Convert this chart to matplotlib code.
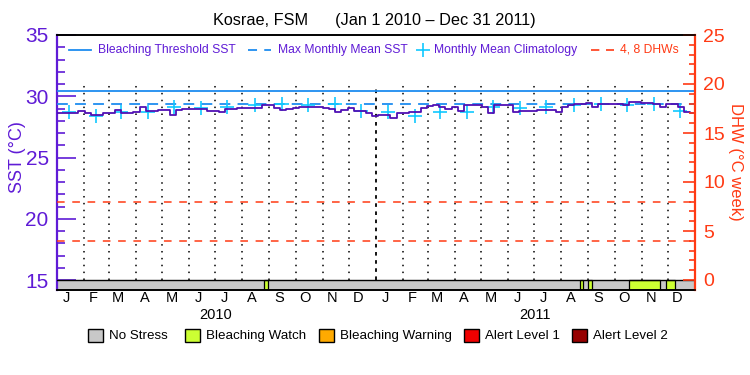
import datetime as dt
import matplotlib
matplotlib.use("Agg")
import matplotlib.pyplot as plt
import matplotlib.dates as mdates
from matplotlib.lines import Line2D
from matplotlib.patches import Rectangle
from matplotlib.transforms import blended_transform_factory

plt.rcParams['font.family'] = ['Liberation Sans', 'DejaVu Sans']

# ---------------- data ----------------
title = "Kosrae, FSM      (Jan 1 2010 \u2013 Dec 31 2011)"
start_date = dt.date(2010, 1, 1)
end_date = dt.date(2012, 1, 1)

# weekly SST (deg C), starting Jan 1 2010
sst_weekly = [
    28.6, 28.6, 28.6, 28.6, 28.8, 28.6, 28.5, 28.5, 28.65, 28.65,
    28.85, 28.65, 28.65, 28.7, 29.1, 28.8, 28.8, 28.85, 28.88, 28.5,
    28.88, 29.0, 29.0, 29.0, 28.95, 28.8, 28.8, 28.7, 29.0, 29.0,
    29.05, 29.07, 29.07, 29.07, 29.3, 29.25, 29.05, 28.9, 28.95, 29.07,
    29.15, 29.15, 29.15, 29.15, 29.07, 29.0, 28.75, 28.88, 29.05, 28.8,
    28.8, 28.6, 28.4, 28.5, 28.45, 28.2, 28.6, 28.6, 28.75, 28.75,
    29.07, 29.2, 29.25, 29.15, 28.96, 29.15, 28.8, 29.3, 29.25, 29.25,
    29.15, 28.6, 29.3, 29.25, 29.25, 28.75, 28.8, 28.8, 28.8, 28.85,
    28.88, 28.88, 28.75, 29.1, 29.25, 29.34, 29.34, 29.42, 29.15, 29.34,
    29.34, 29.34, 29.34, 29.25, 29.5, 29.5, 29.42, 29.42, 29.34, 29.15,
    29.34, 29.34, 29.15, 28.7, 28.6,
]

# monthly mean climatology (Jan..Dec)
clim_sst = [28.69, 28.42, 28.69, 28.69, 29.1, 29.08, 29.1, 29.27, 29.37, 29.27, 29.34, 28.82]
years = [2010, 2011]
month_letters = ['J', 'F', 'M', 'A', 'M', 'J', 'J', 'A', 'S', 'O', 'N', 'D']

bleaching_threshold = 30.4
max_monthly_mean = 29.37
dhw_levels = [4, 8]

# bleaching stress periods (start, end, level)
stress_periods = [
    ("2010-08-26", "2010-08-30", "Bleaching Watch"),
    ("2011-08-22", "2011-08-26", "Bleaching Watch"),
    ("2011-08-31", "2011-09-05", "Bleaching Watch"),
    ("2011-10-17", "2011-11-22", "Bleaching Watch"),
    ("2011-11-29", "2011-12-09", "Bleaching Watch"),
]

stress_labels = ['No Stress', 'Bleaching Watch', 'Bleaching Warning', 'Alert Level 1', 'Alert Level 2']
stress_colors = ['#C8C8C8', '#CCFF33', '#FFAA00', '#F00000', '#960000']

# ---------------- styling ----------------
PURPLE = '#5F1BD6'
SSTLINE = '#5010B4'
BLUE = '#1E8CF0'
CYAN = '#10C8FF'
RED = '#FF3A14'

W, H = 750, 375
fig = plt.figure(figsize=(7.5, 3.75), dpi=100)

def fx(px):
    return px / W

def fy(py):
    return 1 - py / H

ax_l, ax_r, ax_t, ax_b = 57, 695, 35, 290
ax = fig.add_axes([fx(ax_l), fy(ax_b), fx(ax_r - ax_l), (ax_b - ax_t) / H])
ax2 = ax.twinx()

# y-limits: 15 at 280px, 35 at 35px
sst_per_px = 20 / (280 - ax_t)
ax.set_ylim(15 - (ax_b - 280) * sst_per_px, 35)
dhw_per_px = 25 / (280 - ax_t)
ax2.set_ylim(0 - (ax_b - 280) * dhw_per_px, 25)

x0 = mdates.date2num(start_date)
x1 = mdates.date2num(end_date)
ax.set_xlim(x0, x1)

ybot = ax.get_ylim()[0]

# status band
ax.add_patch(Rectangle((x0, ybot), x1 - x0, 15 - ybot, facecolor=stress_colors[0],
                       edgecolor='none', zorder=1))
for s, e, lev in stress_periods:
    xs = mdates.date2num(dt.date.fromisoformat(s))
    xe = mdates.date2num(dt.date.fromisoformat(e))
    ax.add_patch(Rectangle((xs, ybot), xe - xs, 15 - ybot,
                           facecolor=stress_colors[stress_labels.index(lev)],
                           edgecolor='black', linewidth=0.9, zorder=2))
ax.axhline(15, color='black', lw=1.0, zorder=3)

# month grid lines
top_grid = 30.9
for y in years:
    for m in range(1, 13):
        d = dt.date(y, m, 1)
        if d == start_date:
            continue
        xv = mdates.date2num(d)
        if m == 1:
            ax.plot([xv, xv], [15, top_grid], color='black', lw=1.3,
                    ls=(0, (2, 2.5)), zorder=2)
        else:
            ax.plot([xv, xv], [15, top_grid], color='black', lw=1.1,
                    ls=(0, (1, 3.5)), zorder=2)

# threshold & MMM lines
ax.axhline(bleaching_threshold, color=BLUE, lw=1.3, zorder=4)
ax.axhline(max_monthly_mean, color=BLUE, lw=1.3, ls=(0, (6, 4)), zorder=4)

# DHW levels
for lv in dhw_levels:
    ax2.axhline(lv, color=RED, lw=1.1, ls=(0, (5, 5)), zorder=4)

# climatology
clim_x = []
clim_y = []
for y in years:
    for m in range(12):
        clim_x.append(mdates.date2num(dt.date(y, m + 1, 15)))
        clim_y.append(clim_sst[m])
ax.plot(clim_x, clim_y, ls='none', marker='+', ms=10, mew=1.2, color=CYAN, zorder=5)

# SST
sst_x = [mdates.date2num(start_date + dt.timedelta(days=7 * k)) for k in range(len(sst_weekly))]
ax.plot(sst_x, sst_weekly, color=SSTLINE, lw=1.3, drawstyle='steps-mid', zorder=6)

# axes styling
ax.set_xticks([])
ax.set_yticks([15, 20, 25, 30, 35])
ax.set_yticks(range(15, 36), minor=True)
ax.tick_params(axis='y', which='major', direction='in', length=14, width=1.2,
               colors=PURPLE, labelsize=15, pad=6)
ax.tick_params(axis='y', which='minor', direction='in', length=6, width=1.2, colors=PURPLE)
ax2.set_yticks([0, 5, 10, 15, 20, 25])
ax2.set_yticks(range(0, 26), minor=True)
ax2.tick_params(axis='y', which='major', direction='in', length=9, width=1.2,
                colors=RED, labelsize=14, pad=6)
ax2.tick_params(axis='y', which='minor', direction='in', length=4, width=1.2, colors=RED)

for a in (ax, ax2):
    a.spines['top'].set_color('black')
    a.spines['bottom'].set_color('black')
    a.spines['top'].set_linewidth(1.2)
    a.spines['bottom'].set_linewidth(1.2)
ax.spines['left'].set_color(PURPLE)
ax.spines['left'].set_linewidth(1.6)
ax.spines['right'].set_visible(False)
ax2.spines['left'].set_visible(False)
ax2.spines['right'].set_color(RED)
ax2.spines['right'].set_linewidth(1.6)

ax.set_ylabel("SST (\u00b0C)", color=PURPLE, fontsize=13, va='center')
ax.yaxis.set_label_coords((18 - ax_l) / (ax_r - ax_l), (290 - 157) / (ax_b - ax_t))
ax2.set_ylabel("DHW (\u00b0C week)", color=RED, fontsize=12, rotation=-90, va='center')
ax2.yaxis.set_label_coords((735 - ax_l) / (ax_r - ax_l), (290 - 162) / (ax_b - ax_t))

# month and year labels
tr = blended_transform_factory(ax.transData, fig.transFigure)
for y in years:
    for m in range(12):
        xv = mdates.date2num(dt.date(y, m + 1, 12))
        ax.text(xv, fy(298), month_letters[m], transform=tr, ha='center', va='center',
                fontsize=10.5, color='black')
    xm = mdates.date2num(dt.date(y, 7, 2))
    ax.text(xm, fy(315), str(y), transform=tr, ha='center', va='center',
            fontsize=10.5, color='black')

# title
fig.text(fx(374), fy(21), title, ha='center', va='center', fontsize=11.7, color='black')

# top legend
ly = fy(50)
lfs = 8.7
fig.add_artist(Line2D([fx(69), fx(91)], [ly, ly], color=BLUE, lw=1.3))
fig.text(fx(98), ly, "Bleaching Threshold SST", color=PURPLE, fontsize=lfs, va='center')
fig.add_artist(Line2D([fx(248), fx(271)], [ly, ly], color=BLUE, lw=1.3, ls=(0, (5, 4))))
fig.text(fx(278), ly, "Max Monthly Mean SST", color=PURPLE, fontsize=lfs, va='center')
fig.add_artist(Line2D([fx(423)], [ly], color=CYAN, marker='+', ms=10, mew=1.2, ls='none'))
fig.text(fx(434), ly, "Monthly Mean Climatology", color=PURPLE, fontsize=lfs, va='center')
fig.add_artist(Line2D([fx(591), fx(614)], [ly, ly], color=RED, lw=1.2, ls=(0, (5, 4))))
fig.text(fx(620), ly, "4, 8 DHWs", color=RED, fontsize=lfs, va='center')

# bottom legend
box_x = [88, 185, 319, 464, 572]
for bx, lab, col in zip(box_x, stress_labels, stress_colors):
    fig.add_artist(Rectangle((fx(bx), fy(342)), fx(15), 13 / H, facecolor=col,
                             edgecolor='black', lw=1.0, transform=fig.transFigure))
    fig.text(fx(bx + 21), fy(336), lab, fontsize=9.6, va='center', color='black')

fig.savefig("out.png", dpi=100)
